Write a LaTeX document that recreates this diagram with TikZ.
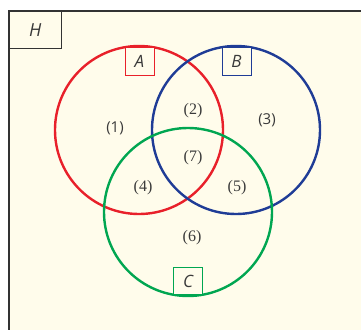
\documentclass[tikz,border=0pt]{standalone}
\usepackage{fontspec}
\newfontfamily\sansf{Open Sans}
\newfontfamily\serf{Liberation Serif}
\usetikzlibrary{positioning}
\definecolor{bg}{HTML}{FFFCEB}
\definecolor{frame}{HTML}{333333}
\definecolor{setA}{HTML}{E8202A}
\definecolor{setB}{HTML}{1F3C96}
\definecolor{setC}{HTML}{00A651}
\definecolor{txt}{HTML}{3A3A3A}
\begin{document}
\begin{tikzpicture}[
  x=1pt,y=-1pt,
  every node/.append style={text=txt},
  circ/.style={line width=2.4pt},
  tag/.style={draw, line width=1pt, fill=bg, minimum width=29pt, minimum height=27pt, inner sep=0pt, font=\sansf\fontsize{17}{17}\selectfont\itshape},
  num/.style={font=\serf\fontsize{16}{16}\selectfont},
  numsf/.style={font=\sansf\fontsize{15}{15}\selectfont},
]
\useasboundingbox (0,0) rectangle (361,329);
\clip (0,0) rectangle (361,329);
% universal set
\node[draw=frame, line width=1.8pt, fill=bg, minimum width=380pt, minimum height=340pt, inner sep=0pt, anchor=north west] (univ) at (8,10) {};
\node[draw=frame, line width=1.4pt, minimum width=53pt, minimum height=38pt, inner sep=0pt, anchor=north west, font=\sansf\fontsize{18}{18}\selectfont\itshape] (H) at (8,10) {H};
% the three sets
\draw[circ, draw=setA] (139,130) circle[radius=84];
\draw[circ, draw=setB] (236,130) circle[radius=84];
\draw[circ, draw=setC] (188,212) circle[radius=84];
\node[tag, draw=setA] (A) at (139.5,61.5) {A};
\node[tag, draw=setB] (B) at (236.5,61.5) {B};
\node[tag, draw=setC] (C) at (188,281) {C};
% regions
\node[numsf] (r1) at (115,128) {(1)};
\node[num] (r2) at (193,111) {(2)};
\node[numsf] (r3) at (267,120) {(3)};
\node[num] (r4) at (143,188) {(4)};
\node[num] (r5) at (237,188) {(5)};
\node[num] (r6) at (192,238) {(6)};
\node[num] (r7) at (193,158) {(7)};
\end{tikzpicture}
\end{document}
